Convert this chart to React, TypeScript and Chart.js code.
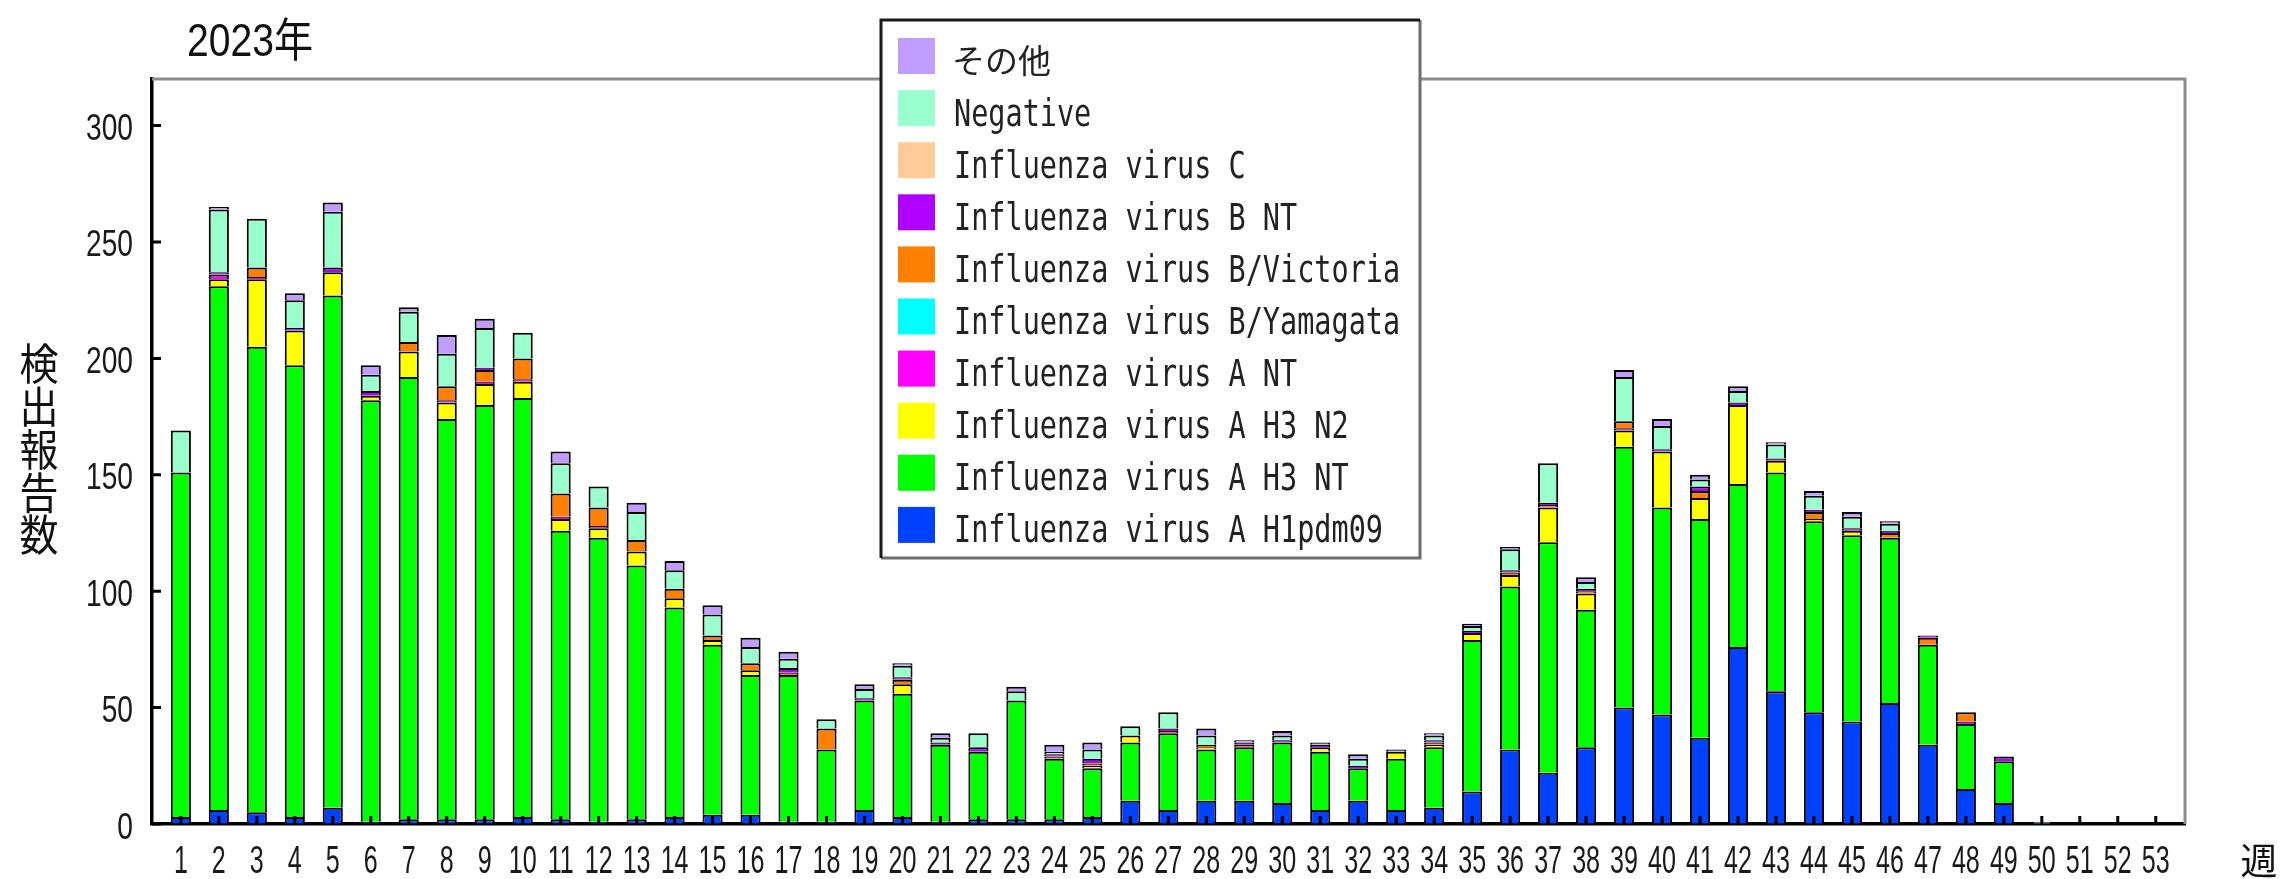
import React, { useEffect, useRef } from 'react';
import { Chart, registerables } from 'chart.js';

Chart.register(...registerables);

const WEEKS = Array.from({ length: 53 }, (_, i) => i + 1);
const Y_TICKS = [0, 50, 100, 150, 200, 250, 300];

const H1PDM09 = [3, 6, 5, 3, 7, 1, 2, 2, 2, 3, 2, 1, 2, 3, 4, 4, 1, 1, 6, 3, 1, 2, 2, 2, 3, 10, 6, 10, 10, 9, 6, 10, 6, 7, 14, 32, 22, 33, 50, 47, 37, 76, 57, 48, 44, 52, 34, 15, 9, 0, 0, 0, 0];
const H3NT = [148, 225, 200, 194, 220, 181, 190, 172, 178, 180, 124, 122, 109, 90, 73, 60, 63, 31, 47, 53, 33, 29, 51, 26, 21, 25, 33, 22, 23, 26, 25, 14, 22, 26, 65, 70, 99, 59, 112, 89, 94, 70, 94, 82, 80, 71, 43, 28, 18, 0, 0, 0, 0];
const H3N2 = [0, 3, 29, 15, 10, 2, 11, 7, 9, 7, 5, 4, 6, 4, 2, 2, 0, 0, 0, 4, 0, 0, 0, 0, 1, 3, 0, 1, 0, 0, 2, 0, 3, 1, 3, 5, 15, 7, 7, 24, 9, 34, 5, 1, 2, 0, 0, 0, 0, 0, 0, 0, 0];
const A_NT = [0, 2, 1, 0, 0, 0, 0, 1, 1, 1, 1, 1, 0, 0, 0, 0, 0, 0, 0, 0, 0, 0, 0, 0, 0, 0, 0, 0, 0, 0, 0, 0, 0, 0, 0, 0, 0, 0, 1, 0, 0, 0, 0, 0, 0, 0, 0, 1, 0, 0, 0, 0, 0];
const B_YAMAGATA = [0, 0, 0, 0, 0, 0, 0, 0, 0, 0, 0, 0, 0, 0, 0, 0, 0, 0, 0, 0, 0, 0, 0, 0, 0, 0, 0, 0, 0, 0, 0, 0, 0, 0, 0, 0, 0, 0, 0, 0, 0, 0, 0, 0, 0, 0, 0, 0, 0, 0, 0, 0, 0];
const B_VICTORIA = [0, 0, 4, 0, 0, 0, 4, 6, 5, 9, 10, 8, 5, 4, 2, 3, 1, 9, 0, 2, 0, 0, 0, 1, 1, 0, 1, 1, 1, 0, 0, 0, 0, 1, 0, 1, 1, 1, 3, 0, 3, 0, 0, 3, 0, 2, 3, 4, 0, 0, 0, 0, 0];
const B_NT = [0, 1, 0, 1, 2, 2, 0, 0, 1, 0, 0, 0, 0, 0, 0, 0, 2, 0, 1, 1, 1, 2, 0, 1, 2, 0, 1, 0, 1, 1, 1, 1, 0, 1, 1, 1, 1, 1, 0, 1, 2, 1, 1, 1, 1, 1, 1, 0, 2, 0, 0, 0, 0];
const C_VIRUS = [0, 0, 0, 0, 0, 0, 0, 0, 0, 0, 0, 0, 0, 0, 0, 0, 0, 0, 0, 0, 0, 0, 0, 0, 0, 0, 0, 0, 0, 0, 0, 0, 0, 0, 0, 0, 0, 0, 0, 0, 0, 0, 0, 0, 0, 0, 0, 0, 0, 0, 0, 0, 0];
const NEGATIVE = [18, 27, 21, 12, 24, 7, 13, 14, 17, 11, 13, 9, 12, 8, 9, 7, 4, 4, 4, 5, 2, 6, 4, 1, 4, 4, 7, 4, 0, 2, 0, 3, 0, 2, 2, 9, 17, 3, 19, 10, 3, 5, 6, 6, 5, 3, 0, 0, 0, 1, 0, 0, 0];
const OTHER = [0, 1, 0, 3, 4, 4, 2, 8, 4, 0, 5, 0, 4, 4, 4, 4, 3, 0, 2, 1, 2, 0, 2, 3, 3, 0, 0, 3, 1, 2, 1, 2, 1, 1, 1, 1, 0, 2, 3, 3, 2, 2, 1, 2, 2, 1, 0, 0, 0, 0, 0, 0, 0];

// bottom-to-top stacking order
const SERIES = [
  { label: 'Influenza virus A H1pdm09', values: H1PDM09, color: '#0040ff' },
  { label: 'Influenza virus A H3 NT', values: H3NT, color: '#00ff00' },
  { label: 'Influenza virus A H3 N2', values: H3N2, color: '#ffff00' },
  { label: 'Influenza virus A NT', values: A_NT, color: '#ff00ff' },
  { label: 'Influenza virus B/Yamagata', values: B_YAMAGATA, color: '#00ffff' },
  { label: 'Influenza virus B/Victoria', values: B_VICTORIA, color: '#ff8000' },
  { label: 'Influenza virus B NT', values: B_NT, color: '#b000ff' },
  { label: 'Influenza virus C', values: C_VIRUS, color: '#ffcc99' },
  { label: 'Negative', values: NEGATIVE, color: '#99ffcc' },
  { label: 'その他', values: OTHER, color: '#c09cff' },
];

const TITLE = '2023年';
const Y_TITLE = '検出報告数';
const X_TITLE = '週';

const SANS = "'Liberation Sans', Arial, 'Noto Sans CJK JP', sans-serif";
const CJK = "'Noto Sans CJK JP', sans-serif";
const MONO = "'DejaVu Sans Mono', 'Liberation Mono', monospace";

function drawSquashed(ctx: any, text: string, x: number, y: number, font: string, sx: number, sy: number, align: string) {
  ctx.save();
  ctx.translate(x, y);
  ctx.scale(sx, sy);
  ctx.font = font;
  ctx.textAlign = align;
  ctx.textBaseline = 'alphabetic';
  ctx.fillText(text, 0, 0);
  ctx.restore();
}

const decorPlugin = {
  id: 'decor',
  afterDraw(chart: any) {
    const { ctx, chartArea, scales } = chart;
    const xs = scales.x;
    const ys = scales.y;
    ctx.save();

    // gray top / right frame
    ctx.strokeStyle = '#8c8c8c';
    ctx.lineWidth = 3;
    ctx.beginPath();
    ctx.moveTo(chartArea.left, chartArea.top);
    ctx.lineTo(chartArea.right, chartArea.top);
    ctx.lineTo(chartArea.right, chartArea.bottom);
    ctx.stroke();

    // inward tick marks
    ctx.strokeStyle = '#000';
    ctx.lineWidth = 3;
    ctx.beginPath();
    xs.ticks.forEach((t: any) => {
      const px = xs.getPixelForValue(t.value);
      ctx.moveTo(px, chartArea.bottom);
      ctx.lineTo(px, chartArea.bottom - 8);
    });
    ys.ticks.forEach((t: any) => {
      const py = ys.getPixelForValue(t.value);
      ctx.moveTo(chartArea.left, py);
      ctx.lineTo(chartArea.left + 9, py);
    });
    ctx.stroke();

    // tick labels (condensed, taken from the scales)
    ctx.fillStyle = '#1a1a1a';
    xs.ticks.forEach((t: any) => {
      const px = xs.getPixelForValue(t.value);
      drawSquashed(ctx, String(t.value), px, 873, `38px ${SANS}`, 0.66, 1, 'center');
    });
    ys.ticks.forEach((t: any) => {
      const py = ys.getPixelForValue(t.value);
      drawSquashed(ctx, String(t.value), 133, py + 14.5, `37.5px ${SANS}`, 0.75, 1, 'right');
    });

    // title
    ctx.fillStyle = '#111';
    drawSquashed(ctx, TITLE, 187, 56, `46px ${SANS}`, 0.85, 1, 'left');

    // vertical y title (stacked characters)
    ctx.textAlign = 'center';
    ctx.textBaseline = 'middle';
    Array.from(Y_TITLE).forEach((ch, i) => {
      ctx.save();
      ctx.translate(39, 364 + i * 42.8);
      ctx.scale(1, 1.1);
      ctx.font = `39px ${CJK}`;
      ctx.fillText(ch, 0, 0);
      ctx.restore();
    });

    // x title
    ctx.font = `37px ${CJK}`;
    ctx.fillText(X_TITLE, 2259, 861);

    // legend box
    const bx = 881, by = 20, bw = 539, bh = 538;
    ctx.fillStyle = '#fff';
    ctx.fillRect(bx, by, bw, bh);
    ctx.lineWidth = 3;
    ctx.strokeStyle = '#6e6e6e';
    ctx.beginPath();
    ctx.moveTo(bx + bw, by);
    ctx.lineTo(bx + bw, by + bh);
    ctx.lineTo(bx, by + bh);
    ctx.stroke();
    ctx.strokeStyle = '#1a1a1a';
    ctx.beginPath();
    ctx.moveTo(bx, by + bh);
    ctx.lineTo(bx, by);
    ctx.lineTo(bx + bw, by);
    ctx.stroke();

    const items = chart.data.datasets.slice().reverse();
    items.forEach((ds: any, i: number) => {
      const top = 38 + i * 52.1;
      ctx.fillStyle = ds.backgroundColor;
      ctx.fillRect(898, top, 37, 36);
      const cy = top + 18 + 4;
      ctx.fillStyle = '#222';
      ctx.textAlign = 'left';
      if (/[^\x00-\x7f]/.test(ds.label)) {
        ctx.textBaseline = 'middle';
        ctx.font = `33px ${CJK}`;
        ctx.fillText(ds.label, 952, cy);
      } else {
        drawSquashed(ctx, ds.label, 954, cy + 13.5, `28.5px ${MONO}`, 1, 1.3, 'left');
      }
    });

    ctx.restore();
  },
};

export default function App() {
  const canvasRef = useRef<HTMLCanvasElement | null>(null);

  useEffect(() => {
    if (!canvasRef.current) return;
    const chart = new Chart(canvasRef.current, {
      type: 'bar',
      data: {
        datasets: SERIES.map((s) => ({
          label: s.label,
          data: WEEKS.map((w, i) => ({ x: w, y: s.values[i] })),
          backgroundColor: s.color,
          borderColor: '#000',
          borderWidth: 2,
          barPercentage: 0.53,
          categoryPercentage: 1,
        })),
      },
      options: {
        responsive: false,
        animation: false,
        events: [],
        layout: { padding: { top: 79, right: 98, left: 0, bottom: 0 } },
        plugins: {
          legend: { display: false },
          tooltip: { enabled: false },
          title: { display: false },
        },
        scales: {
          x: {
            type: 'linear',
            stacked: true,
            offset: false,
            min: 0.24,
            max: 53.77,
            afterBuildTicks: (s: any) => {
              s.ticks = WEEKS.map((w) => ({ value: w }));
            },
            afterFit: (s: any) => {
              s.height = 55;
            },
            grid: { display: true, drawOnChartArea: false, drawTicks: false, offset: false },
            border: { display: true, color: '#000', width: 3.5 },
            ticks: { display: false, autoSkip: false, maxRotation: 0, minRotation: 0 },
          },
          y: {
            stacked: true,
            min: 0,
            max: 320,
            afterBuildTicks: (s: any) => {
              s.ticks = Y_TICKS.map((v) => ({ value: v }));
            },
            afterFit: (s: any) => {
              s.width = 152;
            },
            grid: { display: true, drawOnChartArea: false, drawTicks: false },
            border: { display: true, color: '#000', width: 3.5 },
            ticks: { display: false },
          },
        },
      } as any,
      plugins: [decorPlugin],
    });
    return () => chart.destroy();
  }, []);

  return (
    <div style={{ position: 'absolute', left: 0, top: 0, width: 2283, height: 879, background: '#fff' }}>
      <canvas ref={canvasRef} width={2283} height={879} style={{ display: 'block' }} />
    </div>
  );
}
